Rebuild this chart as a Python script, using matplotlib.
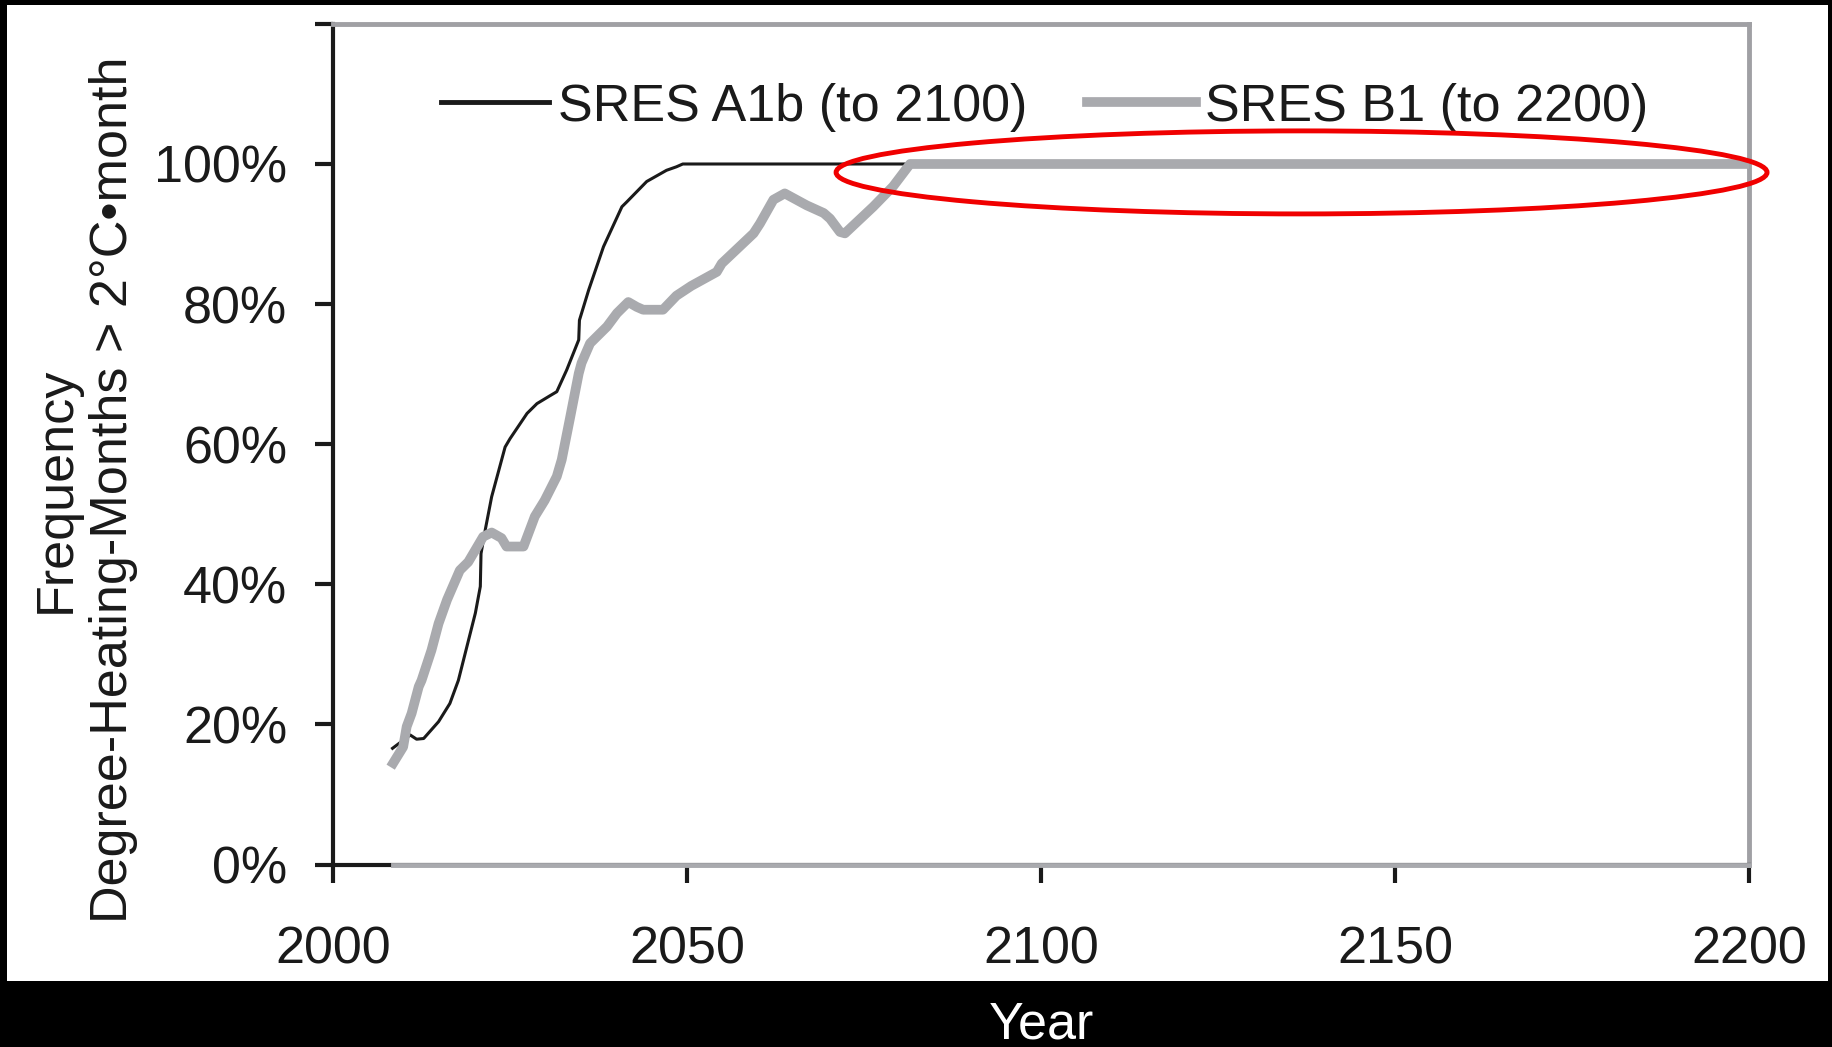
import matplotlib
matplotlib.use("Agg")
import matplotlib.pyplot as plt
from matplotlib.patches import Ellipse, Rectangle

plt.rcParams['font.family'] = ['Liberation Sans', 'DejaVu Sans']

# SRES A1b (to 2100)
a1b_year = [2008.4, 2010.9, 2011.8, 2012.8, 2014.9, 2016.5, 2017.7, 2018.9, 2020.1,
            2020.8, 2020.9, 2021.5, 2022.4, 2024.3, 2025.0, 2027.4, 2028.8, 2030.6,
            2031.6, 2033.0, 2034.7, 2034.8, 2036.1, 2038.2, 2040.8, 2041.5, 2044.3,
            2047.1, 2048.5, 2049.4, 2100]
a1b_val = [16.6, 18.5, 17.9, 18.0, 20.4, 23.0, 26.3, 31.1, 35.9,
           39.7, 44.4, 47.8, 52.5, 59.6, 60.8, 64.4, 65.8, 66.9,
           67.5, 70.6, 74.9, 77.7, 82.0, 88.2, 93.9, 94.6, 97.5,
           99.1, 99.6, 100, 100]

# SRES B1 (to 2200)
b1_year = [2008.5, 2009.9, 2010.4, 2011.1, 2012.1, 2012.5, 2013.9, 2014.9, 2016.1,
           2017.9, 2019.1, 2021.2, 2022.4, 2023.8, 2024.5, 2026.9, 2028.5, 2029.9,
           2031.6, 2032.3, 2033.5, 2034.7, 2035.1, 2036.3, 2038.7, 2040.1, 2041.7,
           2042.9, 2043.8, 2046.6, 2048.5, 2050.6, 2054.2, 2054.9, 2059.4, 2060.3,
           2062.2, 2063.8, 2066.9, 2069.3, 2070.2, 2071.6, 2072.3, 2076.3, 2079.1,
           2081.5, 2200]
b1_val = [14.5, 16.8, 19.7, 21.6, 25.4, 26.3, 30.6, 34.4, 37.8,
          42.0, 43.2, 46.8, 47.4, 46.6, 45.4, 45.4, 49.7, 52.0,
          55.4, 57.8, 63.9, 70.1, 71.6, 74.4, 76.8, 78.7, 80.3,
          79.6, 79.2, 79.2, 81.2, 82.6, 84.6, 85.8, 90.1, 91.5,
          94.9, 95.8, 94.1, 93.0, 92.2, 90.3, 90.1, 93.9, 96.8,
          100, 100]

# other (zero) series lying on the axis
zero_year = [2008.5, 2200]
zero_val = [0, 0]

y_ticks = [0, 20, 40, 60, 80, 100, 120]
y_labels = ['0%', '20%', '40%', '60%', '80%', '100%', '']
x_ticks = [2000, 2050, 2100, 2150, 2200]

fs = 37.5
gray = '#a9aaae'
ink = '#1a1a1a'

fig = plt.figure(figsize=(18.32, 10.47), dpi=100, facecolor='black')
# white panel inside the black frame
fig.patches.append(Rectangle((0.0038, 0.063), 0.994, 0.9322, transform=fig.transFigure,
                             facecolor='white', edgecolor='none', zorder=-5))

ax = fig.add_axes([0.1818, 0.1742, 0.7729, 0.8030])
ax.set_facecolor('white')

ax.plot(a1b_year, a1b_val, color=ink, lw=2.2, label='SRES A1b (to 2100)', zorder=3)
ax.plot(b1_year, b1_val, color=gray, lw=7, label='SRES B1 (to 2200)', zorder=4,
        solid_joinstyle='round')
ax.plot(zero_year, zero_val, color=gray, lw=3.5, zorder=5, clip_on=False)

ax.add_patch(Ellipse((2136.8, 98.8), 131.5, 11.85, fill=False, edgecolor='#f00000',
                     lw=3.5, zorder=6, clip_on=False))

ax.set_xlim(2000, 2200)
ax.set_ylim(0, 120)
ax.set_xticks(x_ticks)
ax.set_yticks(y_ticks)
ax.set_yticklabels(y_labels)
ax.tick_params(axis='both', direction='out', length=13, width=3, color=ink,
               labelsize=fs, labelcolor=ink)
ax.tick_params(axis='x', pad=31)
ax.tick_params(axis='y', pad=20)

for side in ['left', 'bottom']:
    ax.spines[side].set_color(ink)
    ax.spines[side].set_linewidth(3)
for side in ['top', 'right']:
    ax.spines[side].set_color('#a0a0a4')
    ax.spines[side].set_linewidth(3.5)

leg = ax.legend(loc='center left', bbox_to_anchor=(441 / 1832, 1 - 107 / 1047),
                bbox_transform=fig.transFigure, ncol=2, frameon=False, fontsize=fs,
                handlelength=2.08, handletextpad=0.17, columnspacing=1.15,
                borderpad=0, borderaxespad=0)
leg.get_lines()[0].set_linewidth(3.5)
for t in leg.get_texts():
    t.set_color(ink)

fig.text(85 / 1832, 1 - 490 / 1047, 'Frequency\nDegree-Heating-Months > 2°C•month',
         rotation=90, ha='center', va='center', fontsize=fs, color=ink,
         multialignment='center')
fig.text(1041 / 1832, 1 - 1025 / 1047, 'Year', ha='center', va='center',
         fontsize=fs, color='white')

fig.savefig('out.png', dpi=100, facecolor='black')
